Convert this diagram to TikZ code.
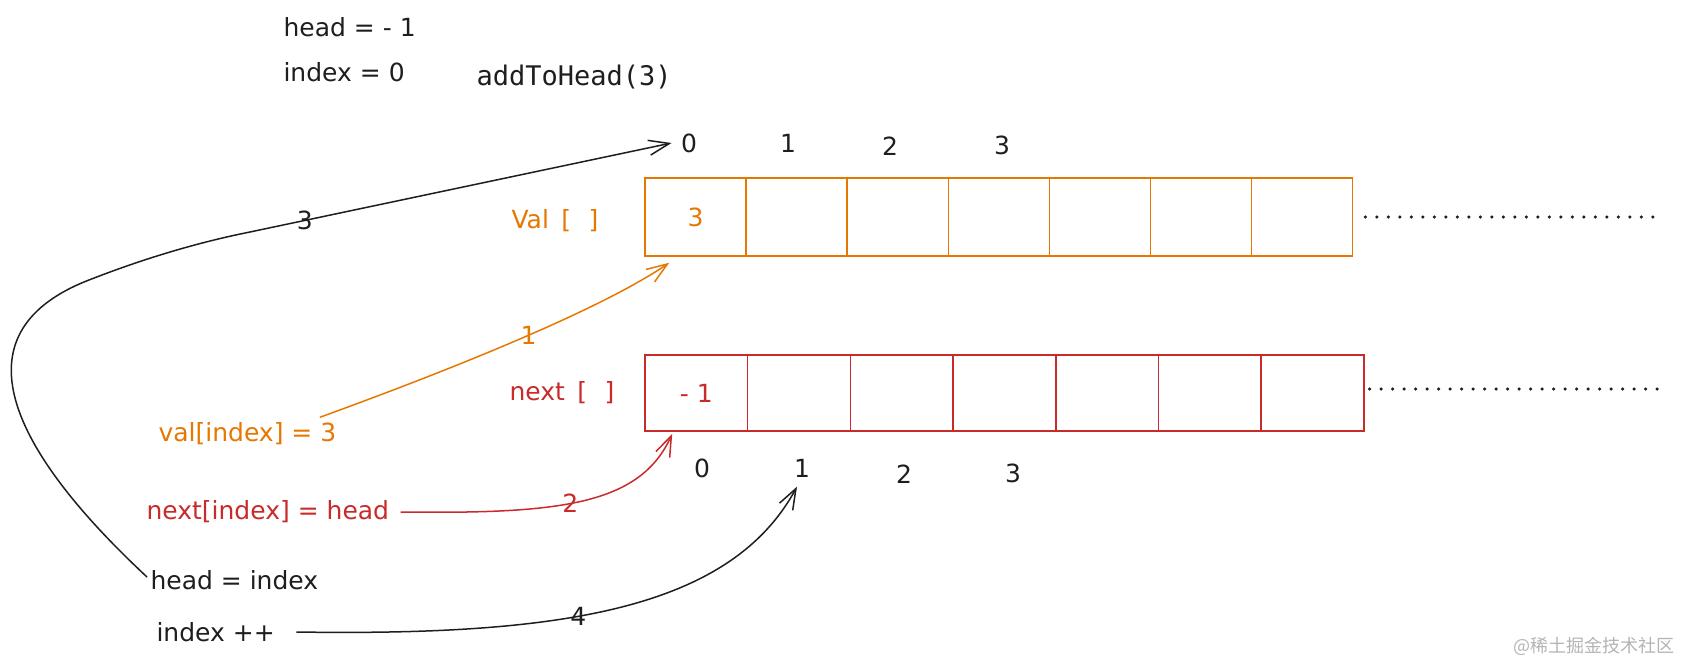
\documentclass[tikz,border=0pt]{standalone}
\usepackage{fontspec}
\setmainfont{DejaVu Sans}
\newfontfamily\codefont{DejaVu Sans Mono}
\newfontfamily\cjkfont{Noto Sans CJK SC}
\usetikzlibrary{arrows.meta}
\definecolor{valorange}{HTML}{E67700}
\definecolor{nextred}{HTML}{C92A2A}
\definecolor{inkblack}{HTML}{1E1E1E}
\definecolor{markgray}{HTML}{B4B4B4}

\begin{document}
\begin{tikzpicture}[
    x=1pt, y=-1pt,
    color=inkblack,
    font=\fontsize{25}{30}\selectfont,
    valcell/.style={draw=valorange, line width=1.5pt, minimum width=101.1pt, minimum height=78pt, inner sep=0pt},
    nextcell/.style={draw=nextred, line width=1.5pt, minimum width=102.7pt, minimum height=76pt, inner sep=0pt},
    flow/.style={line width=1.5pt, -{Straight Barb[angle=40:22pt]}},
    more/.style={line width=3.5pt, line cap=round, dash pattern=on 0pt off 11.5pt},
  ]
    \useasboundingbox (0,0) rectangle (1681,661);
    \node[anchor=west] (headinit) at (280,27) {head = - 1};
    \node[anchor=west] (indexinit) at (280,72) {index = 0};
    \node[anchor=west, font=\codefont\fontsize{27}{32}\selectfont] (call) at (473,77) {addToHead(3)};

    \foreach \i/\x/\y in {0/689/143, 1/788/143, 2/890/146, 3/1002/145}
      \node (ti\i) at (\x,\y) {\i};
    \foreach \i in {0,...,6}
      \node[valcell] (val\i) at ({695.55+101.1*\i},217) {};
    \node[text=valorange] (valnum) at (val0) {3};
    \node[anchor=east, text=valorange] (vallabel) at (602,221) {Val\hspace{0.5em}[\hspace{0.7em}]};
    \draw[more] ([xshift=12pt]val6.east) -- ++(297,0);

    \foreach \i in {0,...,6}
      \node[nextcell] (next\i) at ({696.35+102.7*\i},393) {};
    \node[text=nextred] (nextnum) at (next0) {- 1};
    \node[anchor=east, text=nextred] (nextlabel) at (618,393) {next\hspace{0.5em}[\hspace{0.7em}]};
    \draw[more] ([xshift=5pt,yshift=4pt]next6.east) -- ++(298,0);
    \foreach \i/\x/\y in {0/702/468, 1/802/468, 2/904/474, 3/1013/473}
      \node (bi\i) at (\x,\y) {\i};

    \node[anchor=west, text=valorange] (valexpr) at (155,434) {val[index] = 3};
    \node[anchor=west, text=nextred] (nextexpr) at (143,512) {next[index] = head};
    \node[anchor=west] (headidx) at (147,580) {head = index};
    \node[anchor=west] (indexinc) at (153,632) {index ++};

    \draw[flow, valorange] ([xshift=-20pt,yshift=2pt]valexpr.north east)
      .. controls (450,370) and (600,310) .. node[pos=0.53] {1} ([shift={(25,6)}]val0.south west);
    \draw[flow, nextred] ([xshift=8pt]nextexpr.east)
      .. controls (560,514) and (640,505) .. node[pos=0.45] {2} ([shift={(28,2)}]next0.south west);
    \draw[flow] ([yshift=3pt]headidx.west)
      .. controls (0,440) and (-40,330) .. (89,280)
      .. controls (135,262) and (190,244) .. (250,232)
      -- node[pos=0.13] {3} ([xshift=-6pt]ti0.west);
    \draw[flow] ([xshift=18pt]indexinc.east)
      .. controls (560,636) and (730,610) .. node[pos=0.42] {4} ([shift={(-5,6)}]bi1.south);

    \node[anchor=east, text=markgray, font=\cjkfont\fontsize{18}{20}\selectfont] (mark) at (1678,646) {@稀土掘金技术社区};
  \end{tikzpicture}
\end{document}
